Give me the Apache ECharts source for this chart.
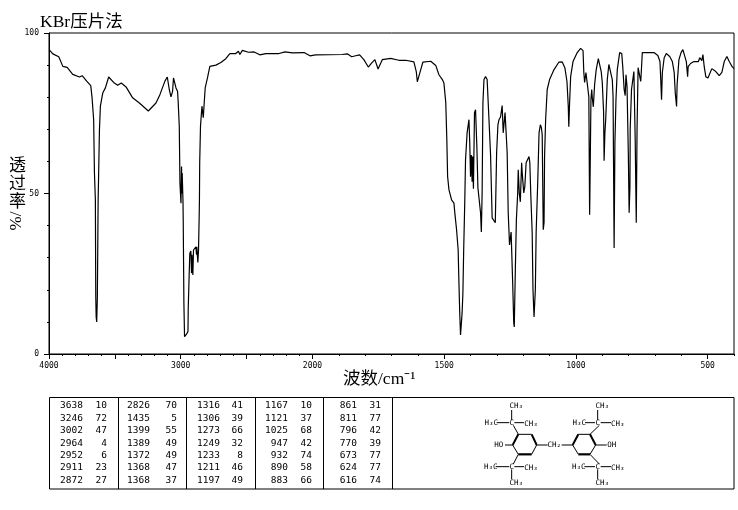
<!DOCTYPE html>
<html><head><meta charset="utf-8">
<style>html,body{margin:0;padding:0;background:#fff}#c{width:738px;height:510px}</style>
<script src="https://cdn.jsdelivr.net/npm/echarts@6/dist/echarts.min.js"></script>
</head><body><div id="c"></div>
<script>
const spectrum = [[3999,94.8],[3971,93.5],[3926,92.6],[3895,89.6],[3862,89.3],[3820,87.1],[3769,86.3],[3748,86.7],[3714,85],[3683,83.6],[3673,79.8],[3661,73],[3655,56.4],[3648,48],[3645,17.9],[3642,11.6],[3638,10],[3633,17.4],[3627,48],[3623,56.4],[3617,69.9],[3610,77.2],[3592,81.3],[3572,82.9],[3547,86.3],[3504,84.4],[3479,83.7],[3451,84.4],[3415,83.2],[3365,79.8],[3314,78.2],[3246,75.7],[3188,78.2],[3158,80.8],[3120,85],[3102,86.3],[3087,82.4],[3074,80.1],[3062,81.8],[3055,86],[3036,82.9],[3024,81.8],[3019,78.2],[3011,70.9],[3006,53.3],[3002,50],[2998,47],[2994,58.4],[2991,50],[2989,56.4],[2983,48],[2981,41.3],[2976,15.9],[2971,5.4],[2964,4.9],[2956,6.2],[2945,7],[2943,14.3],[2936,24.6],[2931,31.4],[2923,32.1],[2918,25.2],[2915,30.9],[2908,24.6],[2903,32.4],[2885,33.4],[2880,30.9],[2878,33.4],[2870,28.5],[2865,32.4],[2860,42.8],[2858,48],[2856,59.6],[2850,70.9],[2839,77.2],[2829,73.6],[2824,76.8],[2814,83],[2797,86],[2779,89.6],[2733,90],[2695,90.8],[2658,92],[2627,93.6],[2582,93.6],[2562,94.3],[2551,93.3],[2532,94.6],[2486,94],[2443,94.1],[2400,93.2],[2355,93.6],[2254,93.6],[2208,94.1],[2153,93.8],[2064,93.9],[2019,92.9],[1988,93.2],[1887,93.3],[1868,93.5],[1851,92.6],[1836,92.9],[1821,93.2],[1805,91.7],[1788,89.4],[1775,90.7],[1763,91.7],[1751,88.8],[1735,91.7],[1703,92.1],[1672,91.5],[1646,91.5],[1615,91],[1606,88],[1602,84.8],[1589,88.6],[1581,90.9],[1551,91.2],[1532,89.9],[1520,87],[1507,85.5],[1501,84.4],[1494,78.3],[1490,66.8],[1487,55.3],[1482,51.2],[1472,48],[1463,47],[1459,43.4],[1453,38.7],[1447,32.4],[1444,22],[1441,12.8],[1438,5.9],[1435,5.3],[1432,12.8],[1429,19],[1426,32.4],[1422,47],[1419,60.5],[1413,68.9],[1406,73],[1403,65.8],[1400,55.2],[1397,62],[1394,53.7],[1392,61.5],[1389,51.5],[1385,75.2],[1381,76.1],[1376,64.6],[1372,51.8],[1366,51.2],[1362,44],[1359,38],[1356,50.2],[1353,78.3],[1349,85.5],[1343,86.4],[1337,85.5],[1330,73],[1324,62],[1318,42.4],[1311,42.4],[1306,40.9],[1301,62.7],[1296,71.4],[1292,73],[1286,73.9],[1280,77.4],[1276,68.9],[1272,68.3],[1269,75.2],[1265,75.2],[1261,62.7],[1257,44],[1252,34],[1249,33.4],[1246,38],[1240,22],[1236,9.7],[1234,8.4],[1230,26.2],[1226,41.8],[1221,50.2],[1219,57.4],[1215,50.2],[1211,47.4],[1206,59.6],[1204,56.5],[1198,50.2],[1194,52.1],[1189,59.6],[1183,59.9],[1178,61.5],[1175,59.6],[1171,49],[1166,37.8],[1163,20],[1159,11.5],[1157,10.9],[1154,20],[1151,37.8],[1145,53.4],[1140,68.9],[1135,71.4],[1131,70.5],[1128,68.3],[1124,38.7],[1121,40.9],[1119,61.5],[1115,73],[1109,82.4],[1100,85.5],[1083,88.6],[1065,90.9],[1052,91],[1042,89.2],[1034,84.9],[1029,77.1],[1027,70.8],[1024,78.3],[1020,86.4],[1011,91.1],[995,93.9],[982,95.2],[973,94.5],[970,87.7],[967,84.6],[962,87.7],[957,88],[951,80.2],[948,43.4],[947,49.6],[943,79.2],[940,82.4],[938,79.9],[934,77],[929,84],[923,88.6],[915,92],[909,92.4],[904,88],[900,84.6],[895,75.5],[893,60.2],[890,68.9],[887,73],[881,85.5],[875,90.2],[870,90.5],[862,85.5],[859,80.2],[855,33],[852,65.8],[848,79.2],[843,88.6],[834,93.9],[826,93.6],[822,89.2],[817,82.4],[813,80.5],[810,87],[806,83.3],[801,62],[800,61.5],[798,44],[795,52],[794,70],[789,82.4],[780,88],[775,66.8],[771,40.9],[768,69.9],[764,89.2],[760,88.6],[754,84.9],[752,87.7],[748,93.9],[742,94.5],[723,93.9],[704,93.9],[689,93],[681,91.1],[678,85.5],[675,79.2],[672,87.7],[665,92.3],[657,93.6],[644,92.7],[634,91.1],[627,87.7],[623,81.4],[618,77.1],[616,83.9],[609,91.7],[601,93.9],[594,94.8],[587,94.2],[581,91.1],[576,86.4],[574,89.5],[565,90.5],[552,91.1],[535,91.1],[530,92.3],[522,91.4],[518,93.3],[513,89.5],[507,86.4],[499,86],[484,88.9],[469,88],[456,86.7],[446,87.7],[437,91.1],[427,92.7],[418,91.1],[407,89.5],[400,88.9]];
const xLabels = [4000,3000,2000,1500,1000,500];
const xMajorTicks = [4000,3500,3000,2500,2000,1500,1000,500];
const xMinorTicks = [3900,3800,3700,3600,3400,3300,3200,3100,2900,2800,2700,2600,2400,2300,2200,2100,1900,1800,1700,1600,1400,1300,1200,1100,900,800,700,600,400];
const peakColumns = [
 [[3638,10],[3246,72],[3002,47],[2964,4],[2952,6],[2911,23],[2872,27]],
 [[2826,70],[1435,5],[1399,55],[1389,49],[1372,49],[1368,47],[1368,37]],
 [[1316,41],[1306,39],[1273,66],[1249,32],[1233,8],[1211,46],[1197,49]],
 [[1167,10],[1121,37],[1025,68],[947,42],[932,74],[890,58],[883,66]],
 [[861,31],[811,77],[796,42],[770,39],[673,77],[624,77],[616,74]]
];
const title = 'KBr压片法', yName = '透\n过\n率', yUnit = '%/', xName = '波数/cm⁻¹';

// the instrument's chart has a 2:1 scale change at 2000 cm-1
const toAxis = w => w >= 2000 ? (4000 - w) / 2 : 1000 + (2000 - w);
const fromAxis = f => f <= 1000 ? 4000 - 2 * f : 2000 - (f - 1000);

const mono = '"DejaVu Sans Mono", monospace';
const cjk = '"Liberation Serif","Noto Sans CJK SC",serif';
const g = [];
const line = (x1,y1,x2,y2,w) => g.push({type:'line',shape:{x1,y1,x2,y2},style:{stroke:'#000',lineWidth:w||1}});
const text = (x,y,t,o) => g.push({type:'text',x,y,rotation:(o&&o.rot)||0,style:Object.assign({text:t,fill:'#000',font:'10px '+mono,textAlign:'left',textVerticalAlign:'middle'},o&&o.s)});

// headings
text(40,22,title,{s:{font:'17.5px '+cjk}});
text(9,185,yName,{s:{font:'17px '+cjk,lineHeight:18,textAlign:'left'}});
text(17,221,yUnit,{rot:Math.PI/2,s:{font:'17px '+cjk,textAlign:'center'}});
text(343,379,xName,{s:{font:'17.5px '+cjk}});

// peak table
g.push({type:'rect',shape:{x:49.5,y:397.5,width:684.5,height:91.5},style:{fill:'none',stroke:'#000',lineWidth:1}});
[118.5,186.5,255.5,323.5,392.5].forEach(x=>line(x,397.5,x,489));
const colEnds = [[83,107],[150,177],[220,243],[288,312],[357,381]];
peakColumns.forEach((col,c)=>col.forEach((r,i)=>{
  const y = 406 + i*12.4;
  text(colEnds[c][0],y,String(r[0]),{s:{font:'9.5px '+mono,textAlign:'right'}});
  text(colEnds[c][1],y,String(r[1]),{s:{font:'9.5px '+mono,textAlign:'right'}});
}));

// structure (zoom coords scaled to the page)
const P = (X,Y)=>[450+X/3,395+Y/3];
const bond = (a,b,c,d,w)=>{const p=P(a,b),q=P(c,d);line(p[0],p[1],q[0],q[1],w);};
const atom = (X,Y,t)=>{const p=P(X,Y);text(p[0],p[1],t,{s:{font:'7.5px '+mono,textAlign:'center'}});};
const ring = (a,b,c,d,e,h,y1,y2,y3)=>{
  bond(a,y1,b,y1); bond(b,y1,c,y2,2); bond(c,y2,d,y3); bond(d,y3,e,y3,2.2); bond(e,y3,h,y2); bond(h,y2,a,y1,2);
};
ring(205,245,260,245,205,188,118,150,178);
ring(385,420,437,420,385,368,118,150,178);
const butyl = (cx,cy,rx,ry,topDir,lx1,lx2,rx1,rx2)=>{
  atom(cx,cy,'C'); bond(rx,ry,cx+5,cy+(topDir<0?8:-8));
  bond(lx1,cy,lx2,cy); bond(rx1,cy,rx2,cy);
  bond(cx,cy+topDir*8,cx,cy+topDir*38);
  atom(cx+14,cy+topDir*49,'CH₃');
};
butyl(185,83,205,118,-1,140,178,193,222); atom(124,83,'H₃C'); atom(243,86,'CH₃');
butyl(185,215,205,178,1,137,178,193,222); atom(122,215,'H₃C'); atom(243,218,'CH₃');
butyl(443,83,420,118,-1,405,435,452,483); atom(388,83,'H₃C'); atom(503,87,'CH₃');
butyl(443,215,420,178,1,403,435,452,483); atom(386,215,'H₃C'); atom(503,218,'CH₃');
atom(146,150,'HO'); bond(165,150,188,150);
atom(485,150,'OH'); bond(437,150,470,150);
atom(313,150,'CH₂'); bond(260,150,293,150); bond(335,150,368,150);

const axisFont = {fontFamily:mono,fontSize:8,color:'#000'};
const thin = {lineStyle:{color:'#000',width:1}};
const chart = echarts.init(document.getElementById('c'),null,{renderer:'canvas'});
chart.setOption({
  animation:false,
  backgroundColor:'#fff',
  grid:{left:49,top:33,right:4,bottom:156,show:true,borderColor:'#000',borderWidth:1,backgroundColor:'transparent'},
  xAxis:[
    {type:'value',min:0,max:toAxis(400),position:'bottom',splitLine:{show:false},
     axisLine:Object.assign({show:true,onZero:false},thin),
     axisTick:Object.assign({show:true,length:5,customValues:xMajorTicks.map(toAxis)},thin),
     axisLabel:Object.assign({show:true,margin:8,customValues:xLabels.map(toAxis),formatter:v=>String(Math.round(fromAxis(v))),hideOverlap:false},axisFont)},
    {type:'value',min:0,max:toAxis(400),position:'bottom',splitLine:{show:false},
     axisLine:{show:false},
     axisTick:Object.assign({show:true,length:2,customValues:xMinorTicks.map(toAxis)},thin),
     axisLabel:{show:false}}
  ],
  yAxis:{type:'value',min:0,max:100,interval:50,splitLine:{show:false},
     axisLine:Object.assign({show:true},thin),
     axisTick:Object.assign({show:true,length:5},thin),
     minorTick:Object.assign({show:true,splitNumber:5,length:2},thin),
     axisLabel:Object.assign({margin:10},axisFont)},
  series:[{type:'line',xAxisIndex:0,showSymbol:false,symbol:'none',silent:true,
     lineStyle:{color:'#000',width:1.2},
     data:spectrum.map(p=>[toAxis(p[0]),p[1]])}],
  graphic:g
});
</script></body></html>
